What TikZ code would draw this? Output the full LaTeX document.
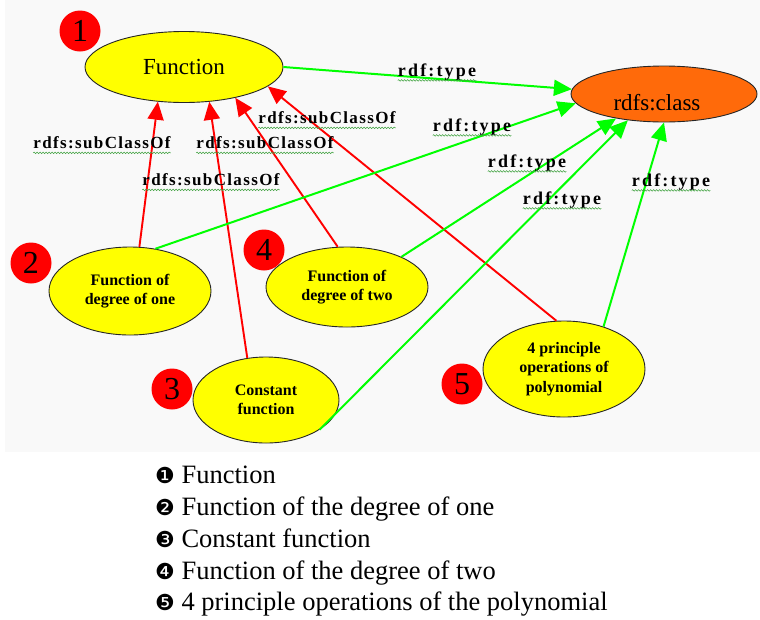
\documentclass[tikz,border=0pt]{standalone}
\usepackage{fontspec}
\setmainfont{Liberation Serif}[BoldFont={Liberation Serif Bold}]
\newfontfamily\legbulletfont{DejaVu Sans}
\newfontfamily\typefont[LetterSpace=12]{Liberation Serif}
\newfontfamily\subfont[LetterSpace=8]{Liberation Serif}
\usetikzlibrary{shapes.geometric,arrows.meta,decorations.pathmorphing}
\definecolor{bgc}{HTML}{F9F9F9}
\definecolor{yel}{HTML}{FFFF00}
\definecolor{org}{HTML}{FF6A0A}
\definecolor{rd}{HTML}{FF0000}
\definecolor{grn}{HTML}{00FF00}
\definecolor{wav}{HTML}{3CA03C}
\newcommand{\legbul}[1]{{\legbulletfont\fontsize{22}{22}\selectfont #1}}
\begin{document}
\begin{tikzpicture}[x=1pt,y=-1pt,
  ell/.style={ellipse, draw=black!85, line width=0.9pt, fill=yel, inner sep=0pt, align=center,
              font=\bfseries\fontsize{16}{19.5}\selectfont},
  num/.style={circle, fill=rd, inner sep=0pt, minimum size=41pt, font=\fontsize{32}{32}\selectfont},
  sub/.style={draw=rd, line width=1.9pt, -{Triangle[length=18pt,width=16pt]}},
  typ/.style={draw=grn, line width=2pt, -{Triangle[length=18pt,width=16pt]}},
  lsub/.style={inner sep=0pt, font=\subfont\bfseries\fontsize{17}{17}\selectfont},
  ltyp/.style={inner sep=0pt, font=\typefont\bfseries\fontsize{18}{18}\selectfont},
  wavy/.style={draw=wav, line width=0.5pt, decorate, decoration={snake, amplitude=0.8pt, segment length=3pt}},
  leg/.style={anchor=base west, inner sep=0pt, font=\fontsize{26.5}{26.5}\selectfont}
]
\useasboundingbox (0,0) rectangle (760,619);
\fill[white] (0,0) rectangle (760,619);
\fill[bgc] (5,0) rectangle (760,452);

% nodes
\node[ell, font=\fontsize{23}{23}\selectfont, minimum width=198pt, minimum height=71pt] (fn) at (184,67) {Function};
\node[ell, fill=org, font=\fontsize{23}{23}\selectfont, minimum width=186pt, minimum height=56pt,
      text height=32pt, text depth=0pt] (cls) at (664,94) {rdfs:class\hspace*{14pt}};
\node[ell, minimum width=162pt, minimum height=88pt] (n2) at (130,291) {Function of\\degree of one};
\node[ell, minimum width=146pt, minimum height=86pt] (n3) at (266,400) {Constant\\function};
\node[ell, minimum width=162pt, minimum height=80pt] (n4) at (347,287) {Function of\\degree of two};
\node[ell, minimum width=162pt, minimum height=96pt] (n5) at (564,369) {4 principle\\operations of\\polynomial};

\node[num] (c1) at (80,31) {1};
\node[num] (c2) at (31,263) {2};
\node[num] (c3) at (172,389) {3};
\node[num] (c4) at (264,250) {4};
\node[num] (c5) at (462,384) {5};

% subclass edges
\draw[sub] (n2.78) -- (fn.233);
\draw[sub] (n3.114) -- (fn.306);
\draw[sub] (n4.103) -- (fn.329);
\draw[sub] (n5.99) -- (fn.347);

% type edges
\draw[typ] (fn.east) -- (cls.177);
\draw[typ] (n2.59) -- (cls.186);
\draw[typ] (n4.29) -- (cls.207);
\draw[typ] (n3.331) -- (cls.216);
\draw[typ] (n5.47) -- (cls.270);

% labels
\node[lsub] (s1) at (102,143) {rdfs:subClassOf};
\node[lsub] (s2) at (265,143) {rdfs:subClassOf};
\node[lsub] (s3) at (211,180) {rdfs:subClassOf};
\node[lsub] (s4) at (327,118) {rdfs:subClassOf};
\node[ltyp] (t1) at (437,72) {rdf:type};
\node[ltyp] (t2) at (472,127) {rdf:type};
\node[ltyp] (t3) at (527,163) {rdf:type};
\node[ltyp] (t4) at (562,200) {rdf:type};
\node[ltyp] (t5) at (671,182) {rdf:type};
\foreach \l in {s1,s2,s3,s4,t1,t2,t3,t4,t5}
  \draw[wavy] ([yshift=-4pt]\l.base west) -- ([yshift=-4pt]\l.base east);

% legend
\node[leg] (g1) at (155,483) {\legbul{❶} Function};
\node[leg] (g2) at (155,515) {\legbul{❷} Function of the degree of one};
\node[leg] (g3) at (155,547) {\legbul{❸} Constant function};
\node[leg] (g4) at (155,579) {\legbul{❹} Function of the degree of two};
\node[leg] (g5) at (155,610) {\legbul{❺} 4 principle operations of the polynomial};
\end{tikzpicture}
\end{document}
